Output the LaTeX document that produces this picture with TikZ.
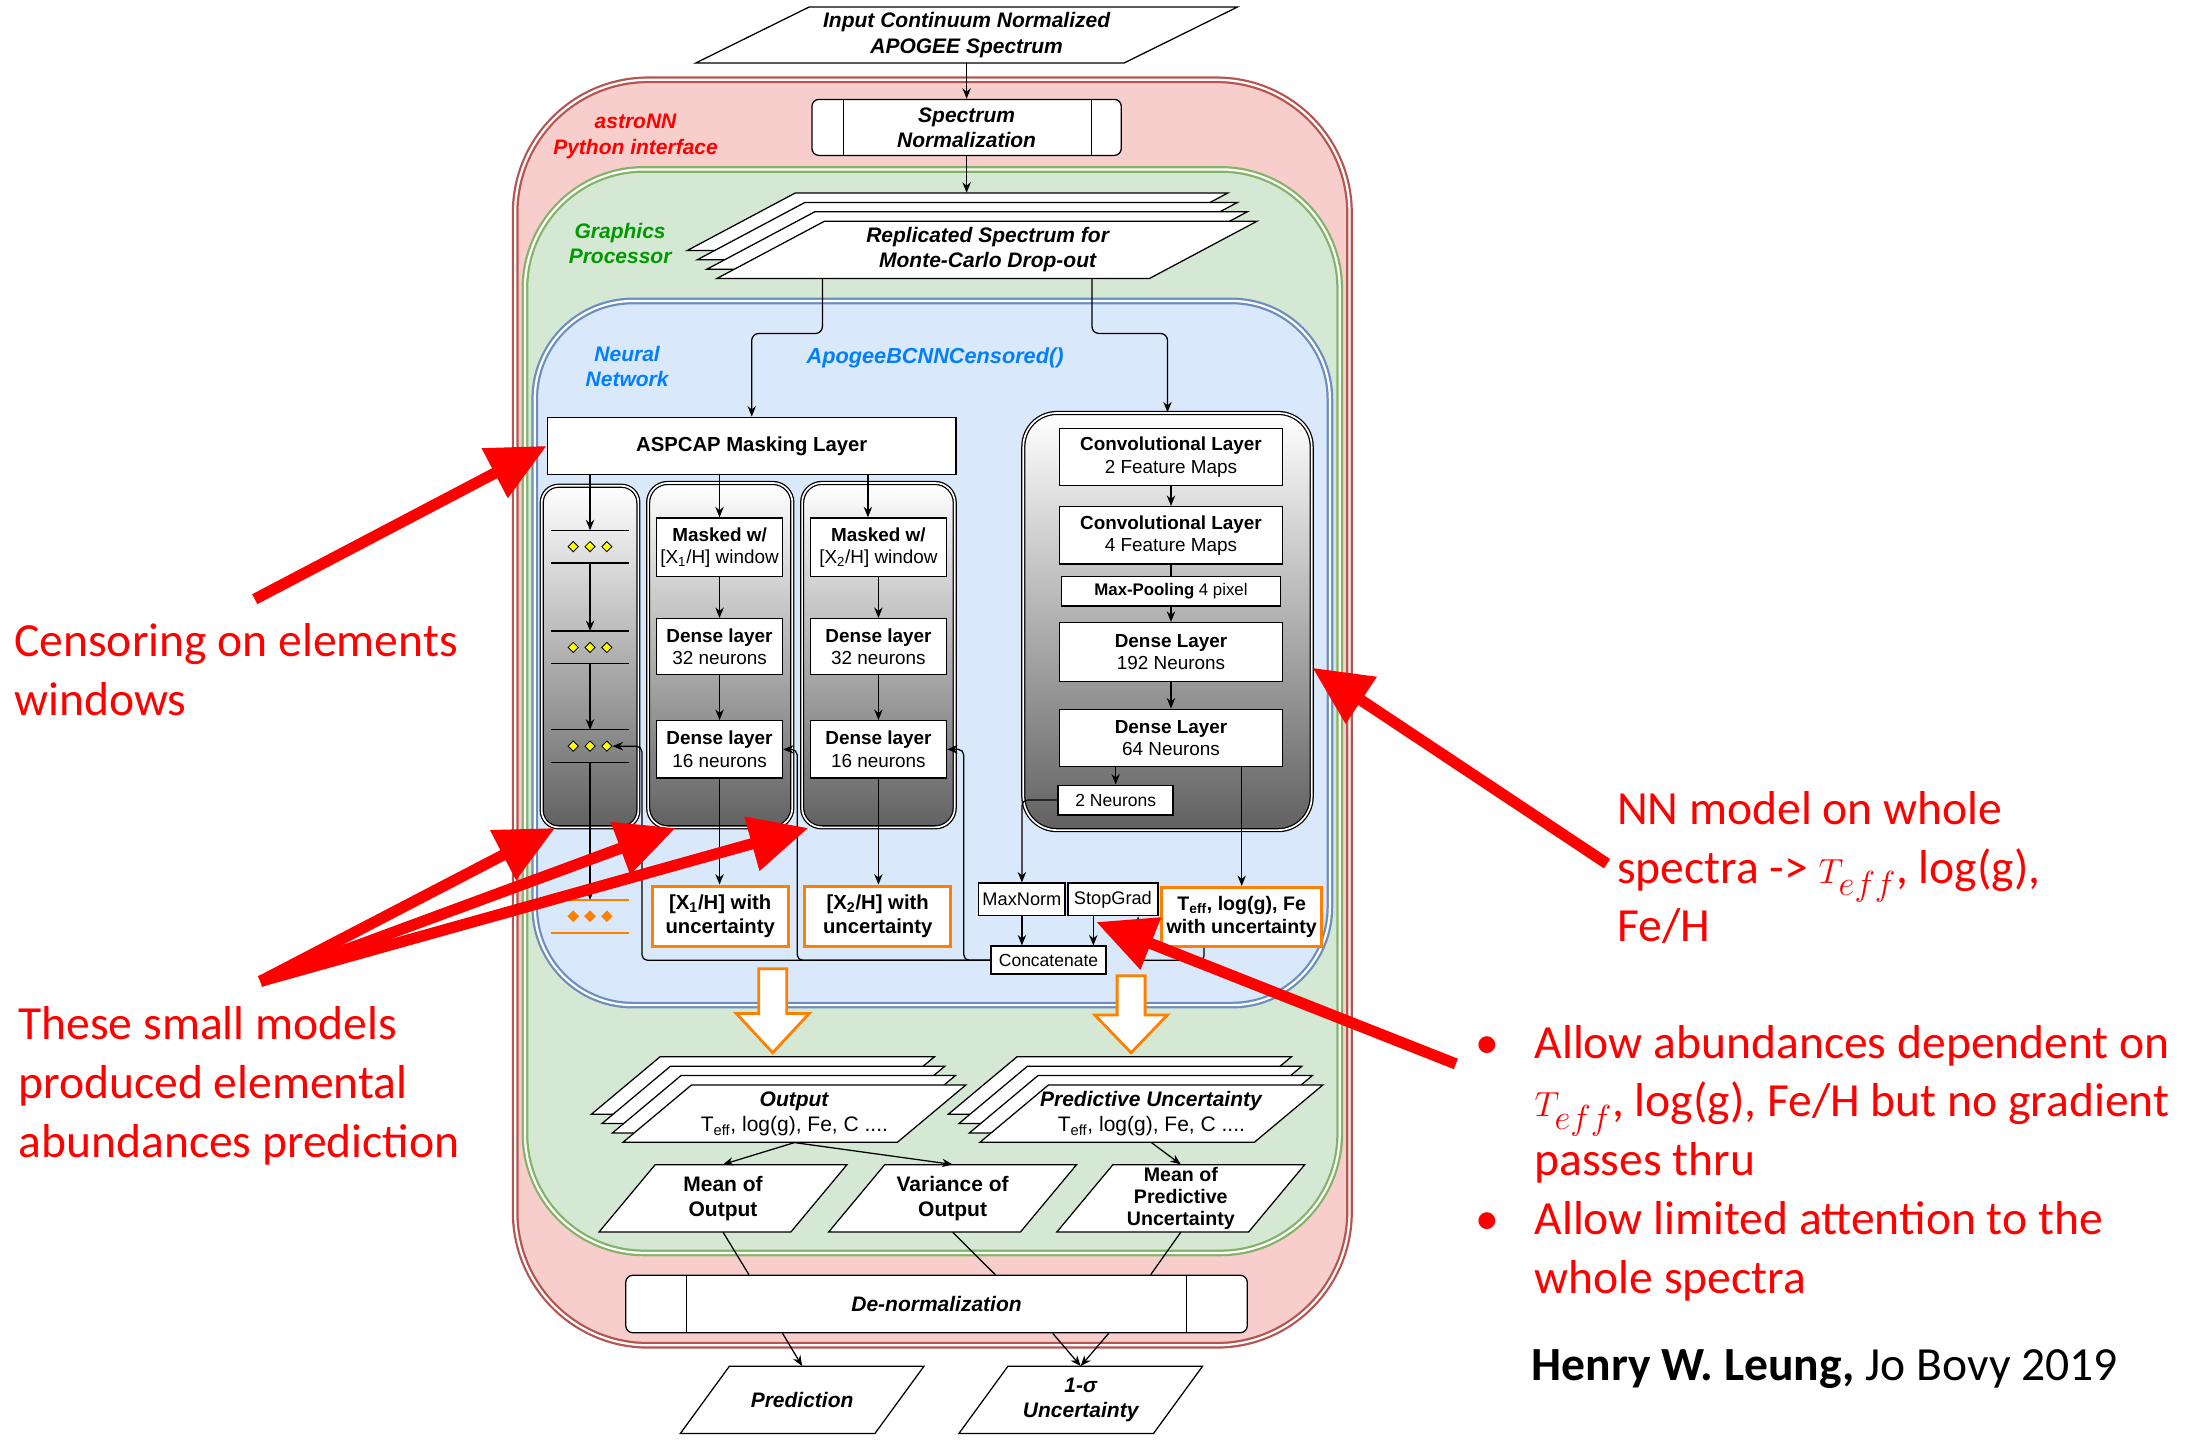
\documentclass[tikz,border=0pt]{standalone}
\usepackage{fontspec}
\setmainfont{Liberation Sans}
\newfontfamily\calibrisf{Carlito}
\usetikzlibrary{shapes.geometric,arrows.meta,positioning}

\definecolor{frameRed}{HTML}{B85450}
\definecolor{fillRed}{HTML}{F8CECC}
\definecolor{frameGreen}{HTML}{82B366}
\definecolor{fillGreen}{HTML}{D5E8D4}
\definecolor{frameBlue}{HTML}{6C8EBF}
\definecolor{fillBlue}{HTML}{DAE8FC}
\definecolor{labelGreen}{HTML}{009900}
\definecolor{labelBlue}{HTML}{007FFF}
\definecolor{outOrange}{HTML}{FF8000}
\definecolor{dotYellow}{HTML}{FFFF00}

\begin{document}
\begin{tikzpicture}[
    x=1pt, y=-1pt,
    >={Stealth[length=7.5pt,width=6pt]},
    conn/.style={->, line width=0.9pt},
    wire/.style={line width=0.9pt},
    zone/.style={rounded corners=#1, line width=1.6pt, double=white, double distance=1.6pt},
    zonelabel/.style={align=center, inner sep=0pt, font=\bfseries\itshape\fontsize{15}{18}\selectfont},
    box/.style={rectangle, draw, line width=0.9pt, fill=white, inner sep=0pt, align=center, font=\fontsize{13.5}{16}\selectfont},
    tinybox/.style={box, line width=1.2pt, font=\fontsize{13}{15}\selectfont},
    outbox/.style={box, draw=outOrange, line width=2.2pt, font=\bfseries\fontsize{14.5}{17.5}\selectfont},
    procbox/.style={box, rounded corners=5pt, font=\bfseries\itshape\fontsize{15}{18}\selectfont},
    parashape/.style={draw, line width=0.9pt, fill=white, line join=miter},
    paratext/.style={rectangle, inner sep=0pt, align=center, font=\fontsize{15}{18}\selectfont},
    layerbox/.style={rectangle, rounded corners=#1, draw, line width=0.9pt, double=white, double distance=1.2pt, top color=white, bottom color=black!62},
    rowmark/.style={minimum width=55pt, minimum height=23pt, inner sep=0pt},
    ydot/.style={diamond, draw, line width=0.6pt, fill=dotYellow, inner sep=0pt, minimum size=7.5pt},
    odot/.style={diamond, fill=outOrange, inner sep=0pt, minimum size=8.5pt},
    blockarrow/.style={draw=outOrange, line width=2pt, fill=white, line join=miter},
    note/.style={text=red, align=left, inner sep=0pt, font=\calibrisf\fontsize{34}{42}\selectfont},
    redarrow/.style={-{Triangle[length=42pt,width=38pt]}, draw=red, line width=8pt}
]
\useasboundingbox (0,0) rectangle (1568,1029);

% nested frames
\draw[zone=95pt, draw=frameRed, fill=fillRed] (368,57) rectangle (964,961);
\draw[zone=85pt, draw=frameGreen, fill=fillGreen] (375,121) rectangle (957,895);
\draw[zone=70pt, draw=frameBlue, fill=fillBlue] (382,215) rectangle (950,718);

\node[zonelabel, text=red] (astroLbl) at (454,97.5) {astroNN\\Python interface};
\node[zonelabel, text=labelGreen] (gpuLbl) at (443,174) {Graphics\\Processor};
\node[zonelabel, text=labelBlue] (nnLbl) at (448,262) {Neural\\Network};
\node[zonelabel, text=labelBlue, font=\bfseries\itshape\fontsize{15.5}{18}\selectfont] (classLbl) at (668,256) {ApogeeBCNNCensored()};

% input and normalization
\draw[parashape] (497,45) -- ++(306,0) -- ++(81,-40) -- ++(-306,0) -- cycle;
\node[paratext, font=\bfseries\itshape\fontsize{15}{18}\selectfont, minimum width=306, minimum height=40] (input) at (690.5,25) {Input Continuum Normalized\\APOGEE Spectrum};
\node[procbox, minimum width=221, minimum height=40] (specnorm) at (690.5,91) {Spectrum\\Normalization};
\draw[wire] ([xshift=23pt]specnorm.north west) -- ([xshift=23pt]specnorm.south west);
\draw[wire] ([xshift=-22pt]specnorm.north east) -- ([xshift=-22pt]specnorm.south east);

% replicated spectra
\foreach \k in {3,2,1} {
  \draw[parashape, shift={(-7*\k,-6.7*\k)}] (512,199) -- ++(309,0) -- ++(77,-41) -- ++(-309,0) -- cycle;
  \node[paratext, minimum width=309, minimum height=41] (rep\k) at (705.5-7*\k,178.5-6.7*\k) {};
}
\draw[parashape] (512,199) -- ++(309,0) -- ++(77,-41) -- ++(-309,0) -- cycle;
\node[paratext, font=\bfseries\itshape\fontsize{15}{18}\selectfont, minimum width=309, minimum height=41] (rep0) at (705.5,178.5) {Replicated Spectrum for\\Monte-Carlo Drop-out};

\draw[conn] (input.south) -- (specnorm.north);
\draw[conn] (specnorm.south) -- (specnorm.south |- rep3.north);

% masking branch
\node[box, minimum width=292, minimum height=41, font=\bfseries\fontsize{14.5}{17}\selectfont] (aspcap) at (537,318.5) {ASPCAP Masking Layer};
\node[layerbox=12pt, minimum width=69, minimum height=244] (col1) at (421.5,469) {};
\node[layerbox=14pt, minimum width=103, minimum height=246] (col2) at (514.5,468) {};
\node[layerbox=14pt, minimum width=109, minimum height=246] (col3) at (627.5,468) {};

\foreach \r/\y in {1/390.5, 2/462.5, 3/533} {
  \node[rowmark] (row\r) at (421.5,\y) {};
  \draw[wire] (row\r.north west) -- (row\r.north east) (row\r.south west) -- (row\r.south east);
  \foreach \d/\dx in {a/-12, b/0, c/12}
    \node[ydot] (dot\r\d) at ([xshift=\dx pt]row\r.center) {};
}
\node[rowmark] (row4) at (421.5,654.5) {};
\draw[wire, draw=outOrange, line width=1.5pt] (row4.north west) -- (row4.north east) (row4.south west) -- (row4.south east);
\foreach \d/\dx in {a/-12, b/0, c/12}
  \node[odot] (dot4\d) at ([xshift=\dx pt]row4.center) {};

\node[box, minimum width=90, minimum height=42] (mask1) at (514,391) {\textbf{Masked w/}\\{[X\textsubscript{1}/H]} window};
\node[box, minimum width=90, minimum height=40, below=29pt of mask1] (dense32a) {\textbf{Dense layer}\\32 neurons};
\node[box, minimum width=90, minimum height=41, below=32pt of dense32a] (dense16a) {\textbf{Dense layer}\\16 neurons};
\node[box, minimum width=97, minimum height=42] (mask2) at (627.5,391) {\textbf{Masked w/}\\{[X\textsubscript{2}/H]} window};
\node[box, minimum width=97, minimum height=40, below=29pt of mask2] (dense32b) {\textbf{Dense layer}\\32 neurons};
\node[box, minimum width=97, minimum height=41, below=32pt of dense32b] (dense16b) {\textbf{Dense layer}\\16 neurons};
\node[outbox, minimum width=97, minimum height=43] (xh1) at (514.5,654.5) {{[X\textsubscript{1}/H]} with\\uncertainty};
\node[outbox, minimum width=104, minimum height=43] (xh2) at (627,654.5) {{[X\textsubscript{2}/H]} with\\uncertainty};

% whole-spectrum branch
\node[layerbox=24pt, minimum width=206, minimum height=298] (convbox) at (834,444) {};
\node[box, minimum width=159, minimum height=41] (conv1) at (836.5,326.5) {\textbf{Convolutional Layer}\\2 Feature Maps};
\node[box, minimum width=159, minimum height=41, below=14pt of conv1] (conv2) {\textbf{Convolutional Layer}\\4 Feature Maps};
\node[box, minimum width=156, minimum height=21, below=8pt of conv2, font=\fontsize{12}{14}\selectfont] (maxpool) {\textbf{Max-Pooling} 4 pixel};
\node[box, minimum width=159, minimum height=42, below=11pt of maxpool] (dense192) {\textbf{Dense Layer}\\192 Neurons};
\node[box, minimum width=159, minimum height=41, below=19pt of dense192] (dense64) {\textbf{Dense Layer}\\64 Neurons};
\node[tinybox, minimum width=82, minimum height=21, font=\fontsize{12.5}{14}\selectfont] (twoN) at (797,571.5) {2 Neurons};

\node[tinybox, minimum width=62, minimum height=23] (maxnorm) at (730,642.5) {MaxNorm};
\node[tinybox, minimum width=64, minimum height=23] (stopgrad) at (795,642.5) {StopGrad};
\node[outbox, minimum width=114, minimum height=42, font=\bfseries\fontsize{14}{17}\selectfont] (teff) at (887,655) {T\textsubscript{eff}, log(g), Fe\\with uncertainty};
\node[tinybox, minimum width=82, minimum height=20, font=\fontsize{12.5}{14}\selectfont] (concat) at (749,686) {Concatenate};

% connectors inside the network
\draw[conn, rounded corners=5pt] ([xshift=-118pt]rep0.center |- rep0.south) -- ++(0,39) -| (aspcap.north);
\draw[conn, rounded corners=5pt] ([xshift=74.5pt]rep0.center |- rep0.south) -- ++(0,39) -| (convbox.north);

\draw[conn] (aspcap.south -| row1.north) -- (row1.north);
\draw[conn] (row1.south) -- (row2.north);
\draw[conn] (row2.south) -- (row3.north);
\draw[conn] (row3.south) -- (row4.north);

\draw[conn] (aspcap.south -| mask1.north) -- (mask1.north);
\draw[conn] (mask1) -- (dense32a);
\draw[conn] (dense32a) -- (dense16a);
\draw[conn] (dense16a.south) -- (dense16a.south |- xh1.north);
\draw[conn] ([xshift=-7.5pt]mask2.north |- aspcap.south) -- ([xshift=-7.5pt]mask2.north);
\draw[conn] (mask2) -- (dense32b);
\draw[conn] (dense32b) -- (dense16b);
\draw[conn] (dense16b.south) -- (dense16b.south |- xh2.north);

\draw[conn] (conv1) -- (conv2);
\draw[wire] (conv2) -- (maxpool);
\draw[conn] (maxpool) -- (dense192);
\draw[conn, line width=1.3pt] (dense192) -- (dense64);
\draw[conn] (twoN.north |- dense64.south) -- (twoN.north);
\draw[conn] (teff.north |- dense64.south) -- (teff.north);
\draw[conn, rounded corners=4pt] (twoN.west) -| (maxnorm.north);

\draw[conn] (maxnorm) -- (maxnorm |- concat.north);
\draw[conn] ([xshift=-14pt]stopgrad.south) -- ([xshift=-14pt]stopgrad.south |- concat.north);
\draw[conn, rounded corners=3pt] ([xshift=-27pt]teff.south) |- ([xshift=18pt]stopgrad.south |- concat.center) -- ([xshift=18pt]stopgrad.south);

\draw[conn, rounded corners=4pt] (concat.west) -| ([xshift=12pt]dense16b.east) -- (dense16b.east);
\draw[conn, rounded corners=4pt] (concat.west) -| ([xshift=10pt]dense16a.east) -- (dense16a.east);
\draw[conn, rounded corners=4pt] (concat.west) -| ([xshift=21pt]dot3c.east) -- (dot3c.east);

% outputs
\draw[blockarrow] (542,692) -- (562,692) -- (562,724) -- (578,724) -- (552,752) -- (526,724) -- (542,724) -- cycle;
\draw[blockarrow] (798,697) -- (818,697) -- (818,725) -- (834,725) -- (808,752) -- (782,725) -- (798,725) -- cycle;

\foreach \k in {3,2,1} {
  \draw[parashape, shift={(-7.5*\k,-6.7*\k)}] (445,816) -- ++(196,0) -- ++(49,-41) -- ++(-196,0) -- cycle;
  \draw[parashape, shift={(-7.5*\k,-6.7*\k)}] (700,816) -- ++(196,0) -- ++(49,-41) -- ++(-196,0) -- cycle;
}
\draw[parashape] (445,816) -- ++(196,0) -- ++(49,-41) -- ++(-196,0) -- cycle;
\draw[parashape] (700,816) -- ++(196,0) -- ++(49,-41) -- ++(-196,0) -- cycle;
\node[paratext, minimum width=196, minimum height=41] (outs) at (567.5,795.5) {\textbf{\textit{Output}}\\T\textsubscript{eff}, log(g), Fe, C ....};
\node[paratext, minimum width=196, minimum height=41] (preds) at (822.5,795.5) {\textbf{\textit{Predictive Uncertainty}}\\T\textsubscript{eff}, log(g), Fe, C ....};

\draw[parashape] (428,880) -- ++(137,0) -- ++(40,-48) -- ++(-137,0) -- cycle;
\draw[parashape] (592,880) -- ++(137,0) -- ++(40,-48) -- ++(-137,0) -- cycle;
\draw[parashape] (755,880) -- ++(137,0) -- ++(40,-48) -- ++(-137,0) -- cycle;
\node[paratext, font=\bfseries\fontsize{15}{18}\selectfont, minimum width=137, minimum height=48] (meanout) at (516.5,856) {Mean of\\Output};
\node[paratext, font=\bfseries\fontsize{15}{18}\selectfont, minimum width=137, minimum height=48] (varout) at (680.5,856) {Variance of\\Output};
\node[paratext, font=\bfseries\fontsize{14}{15.5}\selectfont, minimum width=137, minimum height=48] (meanpred) at (843.5,856) {Mean of\\Predictive\\Uncertainty};

\draw[conn] (outs.south) -- (meanout.north);
\draw[conn] (outs.south) -- (varout.north);
\draw[conn] (preds.south) -- (meanpred.north);

\node[procbox, minimum width=444, minimum height=41] (denorm) at (669,931.5) {De-normalization};
\draw[wire] ([xshift=44pt]denorm.north west) -- ([xshift=44pt]denorm.south west);
\draw[wire] ([xshift=-44pt]denorm.north east) -- ([xshift=-44pt]denorm.south east);

\draw[wire] (meanout.south) -- ([xshift=-134pt]denorm.north);
\draw[wire] (varout.south) -- ([xshift=42pt]denorm.north);
\draw[wire] (meanpred.south) -- ([xshift=153pt]denorm.north);

\draw[parashape] (486,1024) -- ++(139,0) -- ++(35,-48) -- ++(-139,0) -- cycle;
\draw[parashape] (685,1024) -- ++(139,0) -- ++(35,-48) -- ++(-139,0) -- cycle;
\node[paratext, font=\bfseries\itshape\fontsize{15}{18}\selectfont, minimum width=139, minimum height=48] (pred) at (573,1000) {Prediction};
\node[paratext, font=\bfseries\itshape\fontsize{15}{18}\selectfont, minimum width=139, minimum height=48] (unc) at (772,1000) {1-σ\\Uncertainty};

\draw[conn] ([xshift=-110pt]denorm.south) -- (pred.north);
\draw[conn] ([xshift=83pt]denorm.south) -- (unc.north);
\draw[conn] ([xshift=123pt]denorm.south) -- (unc.north);

% annotations
\coordinate (censorTail) at (182,428);
\coordinate (smallTail) at (186,701);
\coordinate (nnTail) at (1148,617);
\coordinate (allowTail) at (1040,760);
\draw[redarrow] (censorTail) -- (aspcap.west);
\draw[redarrow] (smallTail) -- ([xshift=10pt]col1.south west);
\draw[redarrow] (smallTail) -- ([xshift=20pt]col2.south west);
\draw[redarrow] (smallTail) -- ([xshift=5pt]col3.south west);
\draw[redarrow] (nnTail) -- ([yshift=-33pt]convbox.east);
\draw[redarrow] (allowTail) -- ([xshift=-12pt,yshift=-4pt]stopgrad.south);

\node[note, anchor=north west] (censorNote) at (10,445) {Censoring on elements\\windows};
\node[note, anchor=north west] (smallNote) at (13,719) {These small models\\produced elemental\\abundances prediction};
\node[note, anchor=north west] (nnNote) at (1155,565) {NN model on whole\\spectra -> $T_{eff}$, log(g),\\Fe/H};
\node[note, anchor=north west] (allowNote) at (1054,732) {\makebox[42pt][l]{\textbullet}Allow abundances dependent on\\\hspace*{42pt}$T_{eff}$, log(g), Fe/H but no gradient\\\hspace*{42pt}passes thru\\\makebox[42pt][l]{\textbullet}Allow limited attention to the\\\hspace*{42pt}whole spectra};
\node[note, text=black, anchor=north west] (credit) at (1094,964) {\textbf{Henry W. Leung,} Jo Bovy 2019};
\end{tikzpicture}
\end{document}
